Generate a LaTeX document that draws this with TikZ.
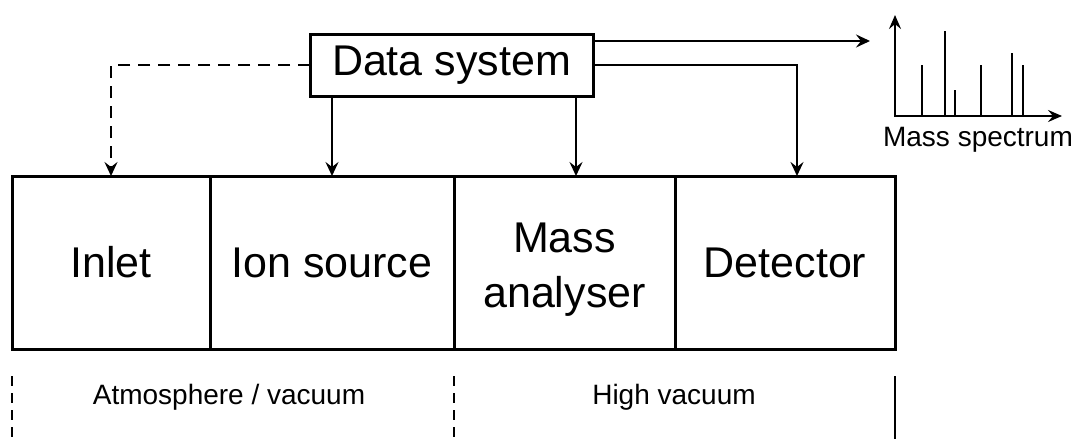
\documentclass[tikz,border=0pt]{standalone}
\usepackage{fontspec}
\setmainfont{Liberation Sans}
\usetikzlibrary{positioning,arrows.meta}

\tikzset{
	stage/.style = {draw, line width=3pt, outer sep=0pt, minimum height=173pt, align=center, font=\fontsize{43}{50}\selectfont},
	flow/.style = {line width=2.8pt, -{Stealth[length=14pt,width=13pt,inset=5pt]}},
	small/.style = {font=\fontsize{28}{32}\selectfont},
}

\begin{document}
\begin{tikzpicture}
		[x=1pt, y=-1pt]
		\useasboundingbox (0,0) rectangle (1075,439);
		
		% instrument stages
		\node [stage, minimum width=198pt] (inlet) at (111,262.5) {Inlet};
		\node [stage, minimum width=244pt, right=0pt of inlet] (ionsrc) {Ion source};
		\node [stage, minimum width=221pt, right=0pt of ionsrc] (analyser) {};
		\node [align=center, font=\fontsize{43}{50}\selectfont] (analysertxt) at ([yshift=-7pt]analyser.center) {Mass\\[5pt]analyser};
		\node [stage, minimum width=220pt, right=0pt of analyser] (detector) {Detector};
		
		% data system
		\node [stage, minimum width=283pt, minimum height=62pt] (ds) at (451.5,65) {Data system};
		
		\draw [flow, dashed, dash pattern=on 12pt off 8pt] (ds.west) -| (inlet.north);
		\draw [flow] (ionsrc.north |- ds.south) -- (ionsrc.north);
		\draw [flow] ([xshift=-17pt]ds.south east) -- ([xshift=-17pt]ds.south east |- analyser.north);
		\draw [flow] (ds.east) -| ([xshift=12pt]detector.north);
		\coordinate (out) at (870,41);
		\draw [flow] ([yshift=24pt]ds.east) -- (out);
		
		% mass spectrum
		\coordinate (o) at (895,116);
		\draw [line width=2.8pt, {Stealth[length=14pt,width=12pt,inset=5pt]}-{Stealth[length=14pt,width=12pt,inset=5pt]}] (895,15) -- (o) -- (1062,116);
		\foreach \x/\h in {922/65, 945/31, 955/90, 981/65, 1012/53, 1023/65}
			\draw [line width=2.6pt] (\x,116) -- (\x,\h);
		\node [small] (spec) at (978,140) {Mass spectrum};
		
		% pressure regions
		\draw [line width=2.2pt, dash pattern=on 10pt off 7pt] (12,376) -- (12,439);
		\draw [line width=2.2pt, dash pattern=on 10pt off 7pt] (454,376) -- (454,439);
		\draw [line width=2.2pt] (895,376) -- (895,439);
		\node [small] (atm) at (229,397) {Atmosphere / vacuum};
		\node [small] (hv) at (674,397) {High vacuum};
		
\end{tikzpicture}
\end{document}
